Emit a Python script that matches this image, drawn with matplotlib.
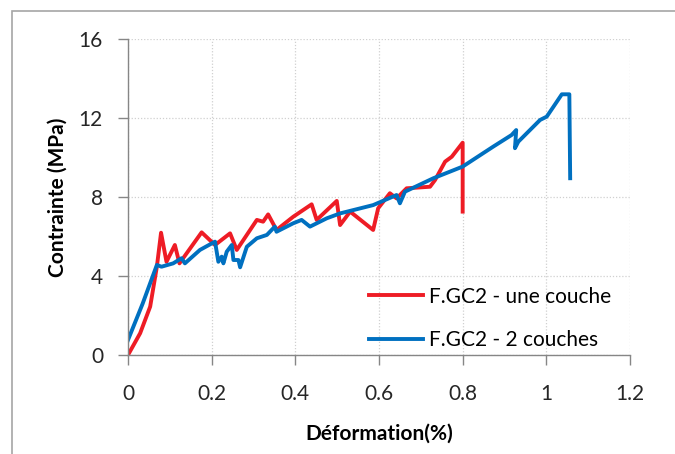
import matplotlib
matplotlib.use("Agg")
import matplotlib.pyplot as plt
from matplotlib.patches import Rectangle

# data
red_x = [0, 0.029, 0.053, 0.069, 0.079, 0.092, 0.112, 0.123, 0.176, 0.208, 0.244, 0.26,
         0.308, 0.323, 0.335, 0.355, 0.395, 0.439, 0.451, 0.499, 0.507, 0.531, 0.586,
         0.598, 0.626, 0.642, 0.666, 0.722, 0.734, 0.758, 0.774, 0.80, 0.80]
red_y = [0, 1.1, 2.45, 4.47, 6.19, 4.72, 5.57, 4.64, 6.21, 5.57, 6.16, 5.32,
         6.84, 6.75, 7.12, 6.33, 7.0, 7.63, 6.84, 7.8, 6.58, 7.26, 6.33,
         7.43, 8.19, 7.93, 8.44, 8.52, 8.86, 9.79, 10.04, 10.75, 7.26]

blue_x = [0, 0.035, 0.069, 0.08, 0.108, 0.128, 0.136, 0.172, 0.208, 0.216, 0.224, 0.228,
          0.236, 0.248, 0.252, 0.264, 0.268, 0.284, 0.308, 0.332, 0.351, 0.355, 0.395,
          0.415, 0.435, 0.475, 0.507, 0.586, 0.642, 0.650, 0.662, 0.73, 0.80, 0.873,
          0.917, 0.928, 0.925, 0.933, 0.985, 1.001, 1.017, 1.037, 1.055, 1.057]
blue_y = [0.76, 2.6, 4.56, 4.47, 4.64, 4.9, 4.64, 5.32, 5.74, 4.72, 4.98, 4.64,
          5.23, 5.57, 4.81, 4.81, 4.44, 5.48, 5.91, 6.08, 6.5, 6.24, 6.67,
          6.84, 6.5, 6.92, 7.17, 7.59, 8.1, 7.68, 8.27, 8.95, 9.54, 10.55,
          11.14, 11.39, 10.47, 10.8, 11.9, 12.07, 12.57, 13.2, 13.2, 8.95]

labels = ["F.GC2 - une couche", "F.GC2 - 2 couches"]
xticks = [0, 0.2, 0.4, 0.6, 0.8, 1, 1.2]
xticklabels = ["0", "0.2", "0.4", "0.6", "0.8", "1", "1.2"]
yticks = [0, 4, 8, 12, 16]

plt.rcParams["font.family"] = ["Lato", "DejaVu Sans"]

fig = plt.figure(figsize=(6.75, 4.54), dpi=100)
# outer chart frame
fig.patches.append(Rectangle((12 / 675, -0.1), 1.2, (454 - 11) / 454 + 0.1,
                             transform=fig.transFigure, fill=False,
                             edgecolor="#A6A6A6", lw=1.2))
ax = fig.add_axes([128 / 675, 99 / 454, 502 / 675, 316 / 454])

ax.plot(red_x, red_y, color="#EE1C25", lw=2.8, label=labels[0], solid_joinstyle="round")
ax.plot(blue_x, blue_y, color="#0070C0", lw=2.8, label=labels[1], solid_joinstyle="round")

ax.set_xlim(0, 1.2)
ax.set_ylim(0, 16)
ax.set_xticks(xticks)
ax.set_xticklabels(xticklabels)
ax.set_yticks(yticks)
ax.grid(True, color="#D0D0D0", ls=(0, (1, 1.5)), lw=0.9)
ax.set_axisbelow(True)
for s in ("top", "right"):
    ax.spines[s].set_visible(False)
for s in ("left", "bottom"):
    ax.spines[s].set_color("#868686")
    ax.spines[s].set_linewidth(1.0)
ax.tick_params(axis="both", colors="#868686", labelcolor="#262626", labelsize=15,
               length=7, width=1.0)
ax.tick_params(axis="x", pad=14)
ax.tick_params(axis="y", pad=11)

ax.set_xlabel("Déformation(%)", fontsize=15, fontweight="bold", labelpad=14)
ax.set_ylabel("Contrainte (MPa)", fontsize=15, fontweight="bold", labelpad=8)

ax.legend(loc="lower right", bbox_to_anchor=(1.0, -0.045), frameon=False, fontsize=15,
          handlelength=2.6, handletextpad=0.3, labelspacing=1.15)

fig.savefig("out.png", dpi=100)
